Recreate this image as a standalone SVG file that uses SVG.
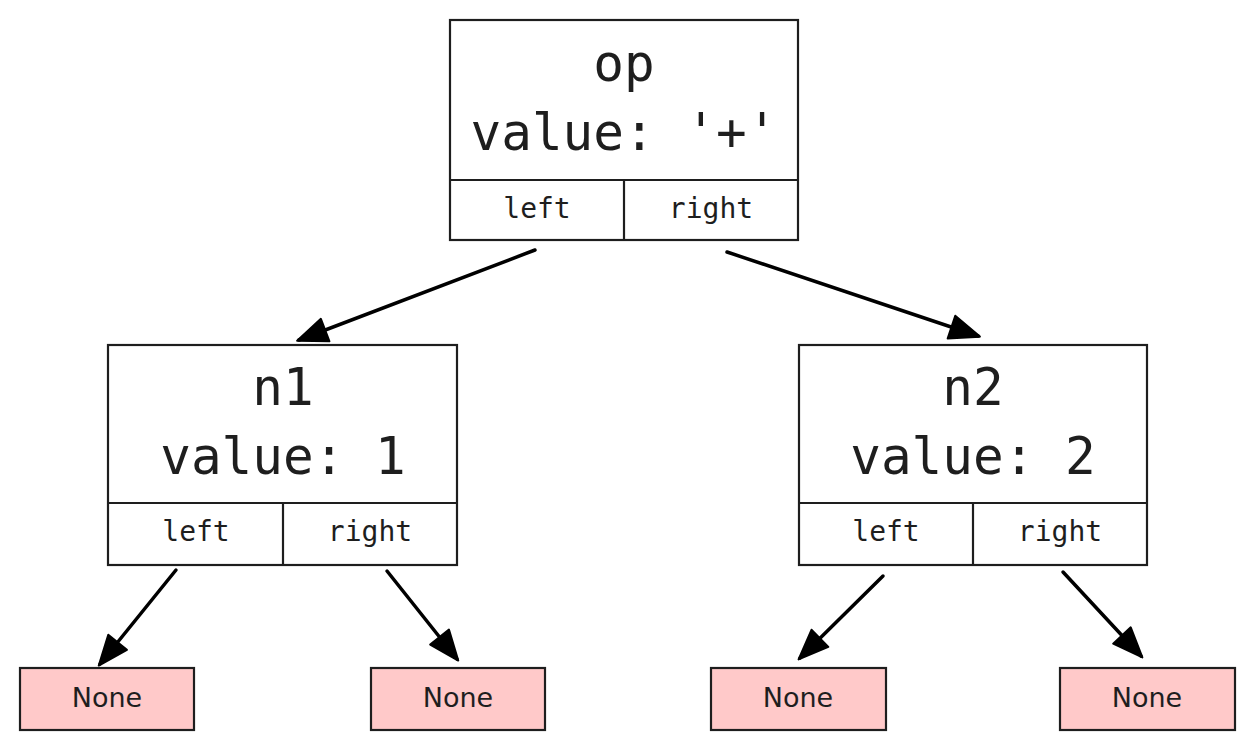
<svg xmlns="http://www.w3.org/2000/svg" width="1255" height="748" viewBox="0 0 1255 748">
<style>
.box{fill:#ffffff;stroke:#1e1e1e;stroke-width:2.2}
.none{fill:#ffc9c9;stroke:#1e1e1e;stroke-width:2.2}
.big{font-family:"DejaVu Sans Mono","Liberation Mono",monospace;font-size:51px;fill:#1e1e1e;text-anchor:middle}
.small{font-family:"DejaVu Sans Mono","Liberation Mono",monospace;font-size:28px;fill:#1e1e1e;text-anchor:middle}
.lbl{font-family:"DejaVu Sans","Liberation Sans",sans-serif;font-size:27px;fill:#1e1e1e;text-anchor:middle}
.edge{stroke:#000;stroke-width:3.5;fill:none;stroke-linecap:round;marker-end:url(#ah)}
</style>
<defs>
<marker id="ah" markerUnits="userSpaceOnUse" markerWidth="34" markerHeight="34" viewBox="0 0 34 34" refX="30" refY="17" orient="auto">
<path d="M2,5 L32,17 L2,29 Z" fill="#000" stroke="#000" stroke-width="2" stroke-linejoin="round"/>
</marker>
</defs>
<g id="edges">
<path class="edge" d="M535,250 L299,340"/>
<path class="edge" d="M727,252 L978,336"/>
<path class="edge" d="M176,570 L100,664"/>
<path class="edge" d="M387,571 L457,659"/>
<path class="edge" d="M883,576 L800,658"/>
<path class="edge" d="M1063,572 L1141,656"/>
</g>
<g id="op">
<rect class="box" x="450" y="20" width="348" height="220"/>
<line class="box" x1="450" y1="180" x2="798" y2="180"/>
<line class="box" x1="624" y1="180" x2="624" y2="240"/>
<text class="big" x="624" y="81">op</text>
<text class="big" x="624" y="150">value: '+'</text>
<text class="small" x="537" y="218">left</text>
<text class="small" x="711" y="218">right</text>
</g>
<g id="n1">
<rect class="box" x="108" y="345" width="349" height="220"/>
<line class="box" x1="108" y1="503" x2="457" y2="503"/>
<line class="box" x1="283" y1="503" x2="283" y2="565"/>
<text class="big" x="283" y="405">n1</text>
<text class="big" x="283" y="474">value: 1</text>
<text class="small" x="196" y="541">left</text>
<text class="small" x="370" y="541">right</text>
</g>
<g id="n2">
<rect class="box" x="799" y="345" width="348" height="220"/>
<line class="box" x1="799" y1="503" x2="1147" y2="503"/>
<line class="box" x1="973" y1="503" x2="973" y2="565"/>
<text class="big" x="973" y="405">n2</text>
<text class="big" x="973" y="474">value: 2</text>
<text class="small" x="886" y="541">left</text>
<text class="small" x="1060" y="541">right</text>
</g>
<g id="none1">
<rect class="none" x="20" y="668" width="174" height="62"/>
<text class="lbl" x="107" y="707">None</text>
</g>
<g id="none2">
<rect class="none" x="371" y="668" width="174" height="62"/>
<text class="lbl" x="458" y="707">None</text>
</g>
<g id="none3">
<rect class="none" x="711" y="668" width="175" height="62"/>
<text class="lbl" x="798" y="707">None</text>
</g>
<g id="none4">
<rect class="none" x="1060" y="668" width="175" height="62"/>
<text class="lbl" x="1147" y="707">None</text>
</g>
</svg>
